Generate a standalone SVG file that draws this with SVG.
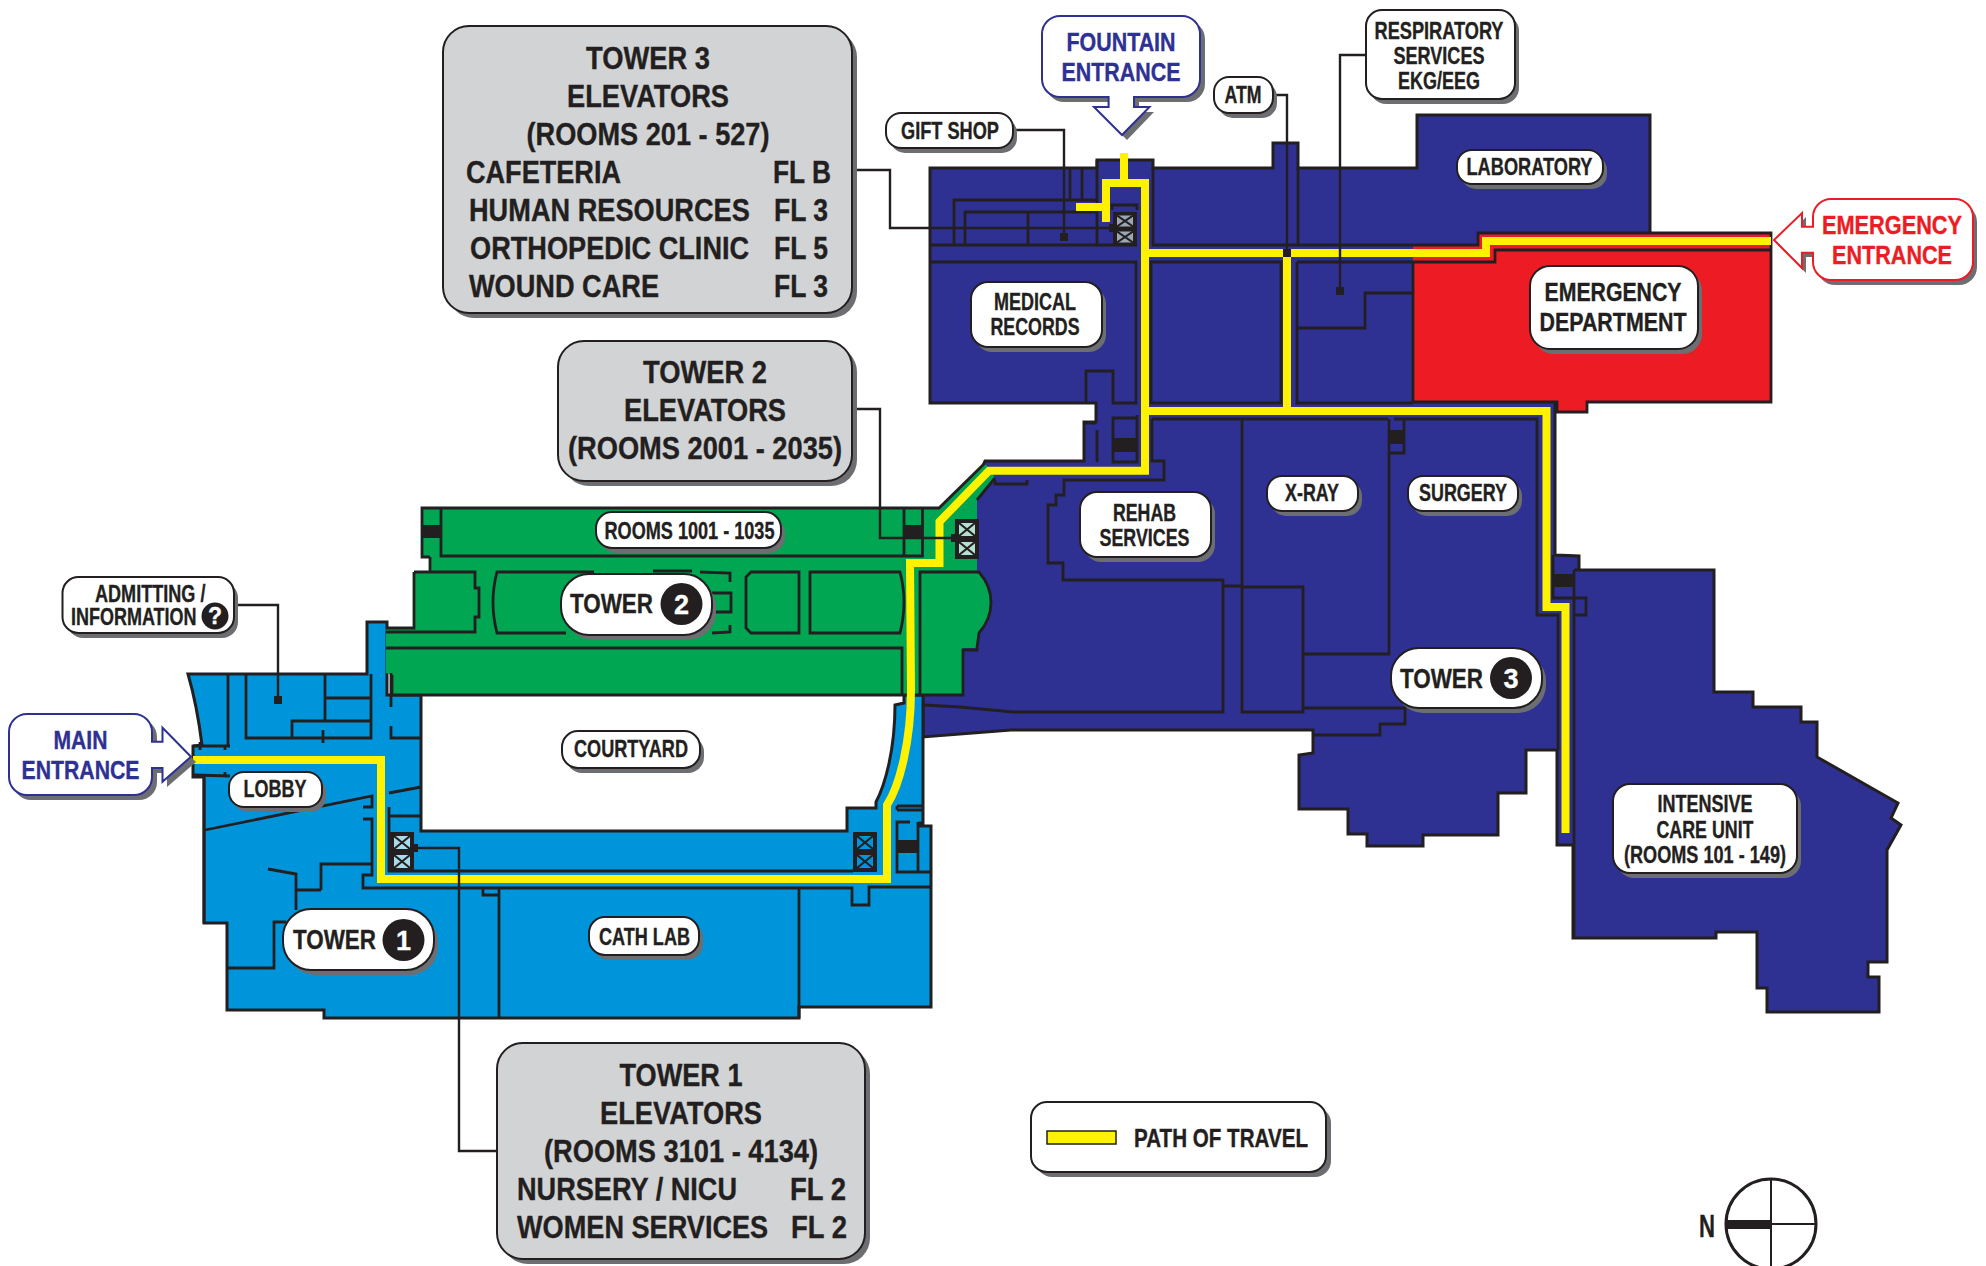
<svg xmlns="http://www.w3.org/2000/svg" width="1986" height="1266" viewBox="0 0 1986 1266">
<defs>
<style>
text{font-family:"Liberation Sans Narrow","Liberation Sans",Arial,sans-serif;font-weight:700;fill:#231F20;stroke:#231F20;stroke-width:.35}
.m{text-anchor:middle}
.s{fill:#6D6E71}
.b{fill:#fff;stroke:#231F20;stroke-width:2}
.g{fill:#D1D3D4;stroke:#231F20;stroke-width:2}
.bl{fill:#fff;stroke:#2E3192;stroke-width:2}
.rd{fill:#fff;stroke:#ED1C24;stroke-width:2}
.w{fill:none;stroke:#231F20;stroke-width:2.8}
.l{fill:none;stroke:#231F20;stroke-width:2.4}
.y{fill:none;stroke:#FFF200;stroke-width:8}
.f20{font-size:20px}.f23{font-size:23px}.f25{font-size:25px}.f27{font-size:27px}.f32{font-size:32px}
text.blu{fill:#2E3192;stroke:#2E3192}
text.red{fill:#ED1C24;stroke:#ED1C24}
text.wt{fill:#fff;stroke:#fff}
</style>
<g id="elev"><rect x="0" y="0" width="24" height="40" fill="#231F20"/><path d="M4,4h16v13h-16zM4,23h16v13h-16z" fill="currentColor"/><path d="M4,4l16,13M20,4l-16,13M4,23l16,13M20,23l-16,13" stroke="#231F20" stroke-width="2.2" fill="none"/></g>
</defs>
<rect width="1986" height="1266" fill="#fff"/>

<g id="plan">
<path id="navy" fill="#2E3192" stroke="#231F20" stroke-width="3" d="M930,168H1097V160H1153V168H1273V143H1298V168H1417V115H1650V232V300H1555V555L1579,556V570H1574H1714V692H1753V707H1801V722H1817V757L1898,803L1891,818L1901,825L1887,850V962H1868V977H1879V1012H1767V988H1757V932H1716V938H1573V845H1557V750H1526V793H1498V835H1423V846H1367V834H1348V809H1299V755L1313,753V730H1011L923,737V695L960,500L977,480L985,461H1084V422H1096V403H930Z"/>
<path id="blue" fill="#0095DA" stroke="#231F20" stroke-width="3" d="M188,674H367V622H387V695H421V831H847V808H876V802C885,785 895,750 895,705L904,703V695H923V823H920V826H931V1007H799V1018H324V1010H227V923H204V777H193V746L202,745Q197,705 188,674Z"/>
<path id="green" fill="#00A651" d="M422,508H939L985,463L995,478L977,500V572C995,590 995,615 979,633L977,648H963V695H392V675L386,673V628H414V572H430V557H422Z"/>
<path class="w" d="M430,557H422V508H939L985,463M995,478L977,500M414,572H430V557M414,572V628H386M386,632H475V617H479V588H475V572H414M386,648H902V695M392,675V695H963V650H977V648L979,633C995,615 995,590 979,572H920V695M441,508V556H922.5V508M904,508V556"/>
<path class="w" d="M594,572H497Q489,602 497,633H566M653,571H692M700,572L730,573V582M712,593H731V612H712M730,625V632L712,633M751,572H799V633H751L746,628V577ZM810,572H900Q908,602 900,633H810Z"/>
<path id="red" fill="#ED1C24" d="M1413,245H1479V233H1771V402H1587V412H1557V402H1413Z"/>
<path class="w" d="M1153,168V245H1478V233H1771V402H1587V412H1557V402H1413V262M1298,168V245M930,245H1137M930,262H1136V403H1113V371H1086V403M1151,262V403H1281V262ZM1297,262V403H1413M1297,262H1413H1495V250H1771M1297,328H1365V293H1413M1097,160V245M954,245V200H1097M965,245V212H1097M1028,212V245M1082,168V200M1070,168V200"/>
<path class="w" d="M1112,210V205H1137V210M1113,418H1137V462H1113ZM1137,418V415M1084,423H1096M1097,462V430"/>
<path class="w" d="M1152,419H1388M1403,419H1537V615H1558V750M1394,419H1403M1152,419V461H1164V480H1064V495H1056V505H1048V563H1063V580H1223V712H1013L960,707L924,705M1223,586H1242M1242,419V712H1303V587H1242M1389,419V654H1303M1303,708H1405V724H1380V735H1314M1389,453H1404V419M995,480V484H1027V480"/>
<path class="w" d="M1553,570V598H1586V615H1574M1574,570V938M1553,555V570"/>
<path class="w" d="M228,674V745M246,674V738H371V674M325,674V720M325,698H371M292,738V721H371M323,730V743M193,746H230M200,742V750M225,745V750M193,775L230,776M204,777V923M225,772V776M205,830L372,796V807H363M363,819H372V875H363V888H852V905H869V887H931M483,888V895H499V888M499,888V1018M321,890V864H371M296,890H321M296,910V874L268,869M286,922H274V968H227M391,673V707M391,726V738H421M389,793L421,787M389,807V871H853M389,816H421M799,887V1018"/>
<path class="w" d="M897,806H923M897,810H923M897,806V810M910,822H897V872H931M918,822V872"/>
<rect x="422" y="525" width="19" height="13" fill="#231F20"/>
<rect x="904" y="525" width="18.500" height="13" fill="#231F20"/>
<rect x="1112" y="438" width="25" height="14" fill="#231F20"/>
<rect x="1389" y="430" width="15" height="14" fill="#231F20"/>
<rect x="1553" y="574" width="20" height="13" fill="#231F20"/>
<rect x="897" y="840" width="21" height="13" fill="#231F20"/>
<use href="#elev" transform="translate(1113,212) scale(1,.85)" color="#9BA7B5"/>
<use href="#elev" x="390" y="832" color="#A8DCEC"/>
<use href="#elev" x="853" y="832" color="#0095DA"/>
<use href="#elev" x="955" y="519" color="#B5DFCF"/>
<path class="y" d="M1124,153V183M1106,222V183H1145V470.700H989L939.500,521.700V563H910L911,690C911,740 900,785 887,805V879H381V760H193"/>
<path class="y" d="M1076,207H1106M1145,253H1413H1486V241H1771M1287,253V411M1145,411H1546.500V607H1565.500V833"/>
</g>

<g id="connectors">
<path class="l" d="M1013,130H1064V237M1273,95H1287V253M1367,55H1340V291M852,170H890V228H1113M852,409H880V538H955M234,605H278V700M414,848H459V1151H498"/>
<rect x="1060" y="233" width="8" height="8" fill="#231F20"/>
<rect x="1283" y="249" width="8" height="8" fill="#231F20"/>
<rect x="1336" y="287" width="8" height="8" fill="#231F20"/>
<rect x="1109" y="224" width="8" height="8" fill="#231F20"/>
<rect x="951" y="534" width="8" height="8" fill="#231F20"/>
<rect x="274" y="696" width="8" height="8" fill="#231F20"/>
<rect x="410" y="844" width="8" height="8" fill="#231F20"/>
</g>

<g id="tower3-info">
<rect class="s" x="448" y="31" width="409" height="287" rx="26"/><rect class="g" x="443" y="26" width="409" height="287" rx="26"/>
<text class="m f32" x="648" y="68.500" textLength="124" lengthAdjust="spacingAndGlyphs">TOWER 3</text>
<text class="m f32" x="648" y="106.500" textLength="162" lengthAdjust="spacingAndGlyphs">ELEVATORS</text>
<text class="m f32" x="648" y="144.500" textLength="243" lengthAdjust="spacingAndGlyphs">(ROOMS 201 - 527)</text>
<text class="f32" x="466" y="182.500" textLength="155" lengthAdjust="spacingAndGlyphs">CAFETERIA</text>
<text class="f32" x="773" y="182.500" textLength="58" lengthAdjust="spacingAndGlyphs">FL B</text>
<text class="f32" transform="translate(469,220.500) scale(.8,1)" x="0" y="0" textLength="351" lengthAdjust="spacingAndGlyphs">HUMAN RESOURCES</text>
<text class="f32" x="774" y="220.500" textLength="54" lengthAdjust="spacingAndGlyphs">FL 3</text>
<text class="f32" transform="translate(470,258.500) scale(.8,1)" x="0" y="0" textLength="349" lengthAdjust="spacingAndGlyphs">ORTHOPEDIC CLINIC</text>
<text class="f32" x="774" y="258.500" textLength="54" lengthAdjust="spacingAndGlyphs">FL 5</text>
<text class="f32" x="469" y="296.500" textLength="190" lengthAdjust="spacingAndGlyphs">WOUND CARE</text>
<text class="f32" x="774" y="296.500" textLength="54" lengthAdjust="spacingAndGlyphs">FL 3</text>
</g>
<g id="tower2-info">
<rect class="s" x="563" y="346" width="294" height="140" rx="26"/><rect class="g" x="558" y="341" width="294" height="140" rx="26"/>
<text class="m f32" x="705" y="382.500" textLength="124" lengthAdjust="spacingAndGlyphs">TOWER 2</text>
<text class="m f32" x="705" y="420.500" textLength="162" lengthAdjust="spacingAndGlyphs">ELEVATORS</text>
<text class="m f32" x="705" y="458.500" textLength="274" lengthAdjust="spacingAndGlyphs">(ROOMS 2001 - 2035)</text>
</g>
<g id="tower1-info">
<rect class="s" x="502" y="1048" width="368" height="216" rx="26"/><rect class="g" x="497" y="1043" width="368" height="216" rx="26"/>
<text class="m f32" x="681" y="1085.500" textLength="123" lengthAdjust="spacingAndGlyphs">TOWER 1</text>
<text class="m f32" x="681" y="1123.500" textLength="162" lengthAdjust="spacingAndGlyphs">ELEVATORS</text>
<text class="m f32" x="681" y="1161.500" textLength="274" lengthAdjust="spacingAndGlyphs">(ROOMS 3101 - 4134)</text>
<text class="f32" x="517" y="1199.500" textLength="220" lengthAdjust="spacingAndGlyphs">NURSERY / NICU</text>
<text class="f32" x="790" y="1199.500" textLength="56" lengthAdjust="spacingAndGlyphs">FL 2</text>
<text class="f32" transform="translate(517,1237.500) scale(.8,1)" x="0" y="0" textLength="314" lengthAdjust="spacingAndGlyphs">WOMEN SERVICES</text>
<text class="f32" x="791" y="1237.500" textLength="56" lengthAdjust="spacingAndGlyphs">FL 2</text>
</g>

<g id="fountain-entrance">
<path class="s" d="M1046,21H1187a18,18 0 0 1 18,18V84a18,18 0 0 1 -18,18H1139V112H1154L1127,140L1099,112H1113V102H1064a18,18 0 0 1 -18,-18V39a18,18 0 0 1 18,-18Z"/>
<path class="bl" d="M1060,16H1182a18,18 0 0 1 18,18V79a18,18 0 0 1 -18,18H1134V107H1149.500L1122,135L1094,107H1108.600V97H1060a18,18 0 0 1 -18,-18V34a18,18 0 0 1 18,-18Z"/>
<text class="m f25 blu" x="1121" y="51" textLength="109" lengthAdjust="spacingAndGlyphs">FOUNTAIN</text>
<text class="m f25 blu" x="1121" y="81" textLength="119" lengthAdjust="spacingAndGlyphs">ENTRANCE</text>
</g>
<g id="emergency-entrance" transform="translate(-7,0)">
<path class="s" d="M1842,204H1966a18,18 0 0 1 18,18V267a18,18 0 0 1 -18,18H1842a18,18 0 0 1 -18,-18V257H1813V273L1785,245L1813,217V231H1824V222a18,18 0 0 1 18,-18Z"/>
<path class="rd" d="M1838,199H1962a18,18 0 0 1 18,18V262a18,18 0 0 1 -18,18H1838a18,18 0 0 1 -18,-18V252.700H1809V268L1781,240L1809,213V226.700H1820V217a18,18 0 0 1 18,-18Z"/>
<text class="m f25 red" x="1899" y="234" textLength="140" lengthAdjust="spacingAndGlyphs">EMERGENCY</text>
<text class="m f25 red" x="1899" y="264" textLength="120" lengthAdjust="spacingAndGlyphs">ENTRANCE</text>
</g>
<g id="main-entrance">
<path class="s" d="M31,719H139a18,18 0 0 1 18,18V747H167V733L196,762L167,787V773H157V782a18,18 0 0 1 -18,18H31a18,18 0 0 1 -18,-18V737a18,18 0 0 1 18,-18Z"/>
<path class="bl" d="M27,714H134a18,18 0 0 1 18,18V741.700H162.500V727.700L191,756.700L162.500,781.700V768H152V777a18,18 0 0 1 -18,18H27a18,18 0 0 1 -18,-18V732a18,18 0 0 1 18,-18Z"/>
<text class="m f25 blu" x="80.500" y="749" textLength="54" lengthAdjust="spacingAndGlyphs">MAIN</text>
<text class="m f25 blu" x="80.500" y="779" textLength="118" lengthAdjust="spacingAndGlyphs">ENTRANCE</text>
</g>

<g id="gift-shop"><rect class="s" x="890" y="118" width="127" height="35" rx="15"/><rect class="b" x="886" y="113" width="127" height="35" rx="15"/><text class="m f23" x="950" y="139" textLength="98" lengthAdjust="spacingAndGlyphs">GIFT SHOP</text></g>
<g id="atm"><rect class="s" x="1218" y="82" width="59" height="36" rx="15"/><rect class="b" x="1214" y="77" width="59" height="36" rx="15"/><text class="m f23" x="1243" y="103" textLength="37" lengthAdjust="spacingAndGlyphs">ATM</text></g>
<g id="respiratory"><rect class="s" x="1370" y="15" width="149" height="89" rx="16"/><rect class="b" x="1366" y="10" width="149" height="89" rx="16"/>
<text class="m f23" x="1439" y="39" textLength="129" lengthAdjust="spacingAndGlyphs">RESPIRATORY</text>
<text class="m f23" x="1439" y="64" textLength="91" lengthAdjust="spacingAndGlyphs">SERVICES</text>
<text class="m f23" x="1439" y="89" textLength="82" lengthAdjust="spacingAndGlyphs">EKG/EEG</text></g>
<g id="laboratory"><rect class="s" x="1461" y="155" width="146" height="34" rx="15"/><rect class="b" x="1457" y="150" width="146" height="34" rx="15"/><text class="m f23" x="1529.500" y="175" textLength="126" lengthAdjust="spacingAndGlyphs">LABORATORY</text></g>
<g id="medical-records"><rect class="s" x="975" y="287" width="131" height="65" rx="17"/><rect class="b" x="971" y="282" width="131" height="65" rx="17"/>
<text class="m f23" x="1035" y="310" textLength="82" lengthAdjust="spacingAndGlyphs">MEDICAL</text>
<text class="m f23" x="1035" y="335" textLength="89" lengthAdjust="spacingAndGlyphs">RECORDS</text></g>
<g id="emergency-department"><rect class="s" x="1534" y="271" width="168" height="83" rx="20"/><rect class="b" x="1530" y="266" width="168" height="83" rx="20"/>
<text class="m f25" x="1613" y="301" textLength="137" lengthAdjust="spacingAndGlyphs">EMERGENCY</text>
<text class="m f25" x="1613" y="331" textLength="147" lengthAdjust="spacingAndGlyphs">DEPARTMENT</text></g>
<g id="rooms-1001"><rect class="s" x="600" y="517" width="185" height="36" rx="16"/><rect class="b" x="596" y="512" width="185" height="36" rx="16"/><text class="m f23" x="689.500" y="539" textLength="170" lengthAdjust="spacingAndGlyphs">ROOMS 1001 - 1035</text></g>
<g id="tower-2"><rect class="s" x="565" y="579" width="151" height="61" rx="28"/><rect class="b" x="561" y="574" width="151" height="61" rx="28"/>
<text class="m f27" x="611.500" y="613" textLength="83" lengthAdjust="spacingAndGlyphs">TOWER</text><circle cx="681.500" cy="604" r="21" fill="#231F20"/><text class="m f27 wt" x="681.500" y="614">2</text></g>
<g id="rehab"><rect class="s" x="1084" y="497" width="131" height="65" rx="17"/><rect class="b" x="1080" y="492" width="131" height="65" rx="17"/>
<text class="m f23" x="1144.500" y="521" textLength="63" lengthAdjust="spacingAndGlyphs">REHAB</text>
<text class="m f23" x="1144.500" y="546" textLength="90" lengthAdjust="spacingAndGlyphs">SERVICES</text></g>
<g id="x-ray"><rect class="s" x="1271" y="481" width="91" height="35" rx="15"/><rect class="b" x="1267" y="476" width="91" height="35" rx="15"/><text class="m f23" x="1312" y="501" textLength="54" lengthAdjust="spacingAndGlyphs">X-RAY</text></g>
<g id="surgery"><rect class="s" x="1412" y="481" width="110" height="35" rx="15"/><rect class="b" x="1408" y="476" width="110" height="35" rx="15"/><text class="m f23" x="1463" y="501" textLength="88" lengthAdjust="spacingAndGlyphs">SURGERY</text></g>
<g id="tower-3"><rect class="s" x="1395" y="653" width="151" height="60" rx="28"/><rect class="b" x="1391" y="648" width="151" height="60" rx="28"/>
<text class="m f27" x="1441.500" y="688" textLength="83" lengthAdjust="spacingAndGlyphs">TOWER</text><circle cx="1511" cy="678" r="21" fill="#231F20"/><text class="m f27 wt" x="1511" y="688">3</text></g>
<g id="icu"><rect class="s" x="1617" y="789" width="184" height="89" rx="17"/><rect class="b" x="1613" y="784" width="184" height="89" rx="17"/>
<text class="m f23" x="1705" y="812" textLength="95" lengthAdjust="spacingAndGlyphs">INTENSIVE</text>
<text class="m f23" x="1705" y="838" textLength="97" lengthAdjust="spacingAndGlyphs">CARE UNIT</text>
<text class="m f23" x="1705" y="863" textLength="162" lengthAdjust="spacingAndGlyphs">(ROOMS 101 - 149)</text></g>
<g id="admitting"><rect class="s" x="67" y="582" width="171" height="56" rx="16"/><rect class="b" x="62.500" y="577" width="171.500" height="56" rx="16"/>
<text class="f23" transform="translate(95,602) scale(.8,1)" x="0" y="0" textLength="138" lengthAdjust="spacingAndGlyphs">ADMITTING /</text>
<text class="f23" transform="translate(71,625) scale(.8,1)" x="0" y="0" textLength="157" lengthAdjust="spacingAndGlyphs">INFORMATION</text>
<circle cx="215" cy="616" r="13.500" fill="#231F20"/><text class="m f23 wt" x="215" y="624">?</text></g>
<g id="lobby"><rect class="s" x="233" y="777" width="93" height="35" rx="15"/><rect class="b" x="229" y="772" width="93" height="35" rx="15"/><text class="m f23" x="275" y="797" textLength="63" lengthAdjust="spacingAndGlyphs">LOBBY</text></g>
<g id="courtyard"><rect class="s" x="566" y="736" width="138" height="37" rx="16"/><rect class="b" x="562" y="731" width="138" height="37" rx="16"/><text class="m f23" x="631" y="757" textLength="114" lengthAdjust="spacingAndGlyphs">COURTYARD</text></g>
<g id="cath-lab"><rect class="s" x="593" y="922" width="110" height="38" rx="16"/><rect class="b" x="589" y="917" width="110" height="38" rx="16"/><text class="m f23" x="644.500" y="945" textLength="91" lengthAdjust="spacingAndGlyphs">CATH LAB</text></g>
<g id="tower-1"><rect class="s" x="287" y="914" width="151" height="61" rx="28"/><rect class="b" x="283" y="909" width="151" height="61" rx="28"/>
<text class="m f27" x="334.500" y="949" textLength="83" lengthAdjust="spacingAndGlyphs">TOWER</text><circle cx="403.500" cy="940" r="21" fill="#231F20"/><text class="m f27 wt" x="403.500" y="950">1</text></g>

<g id="legend"><rect class="s" x="1036" y="1107" width="295" height="70" rx="16"/><rect class="b" x="1031" y="1102" width="295" height="70" rx="16"/>
<rect x="1047" y="1131" width="69" height="13" fill="#FFF200" stroke="#231F20" stroke-width="1.500"/>
<text class="f25" x="1134" y="1147" textLength="174" lengthAdjust="spacingAndGlyphs">PATH OF TRAVEL</text></g>

<g id="compass">
<circle cx="1771" cy="1224" r="45" fill="#fff" stroke="#231F20" stroke-width="3"/>
<path d="M1771,1179V1269M1771,1224H1816" stroke="#231F20" stroke-width="2" fill="none"/>
<rect x="1727" y="1220" width="44" height="9" fill="#231F20"/>
<text class="f32" x="1699" y="1237" textLength="16" lengthAdjust="spacingAndGlyphs">N</text>
</g>
</svg>
